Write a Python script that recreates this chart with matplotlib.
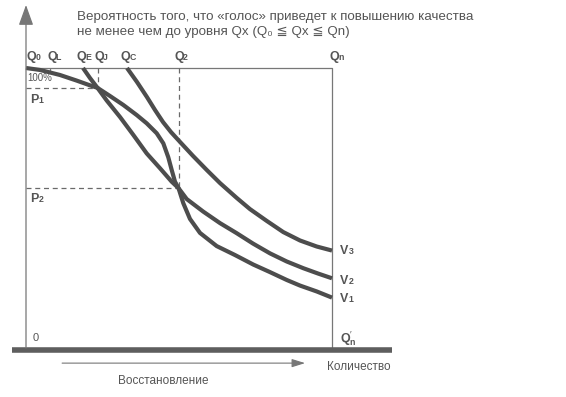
import matplotlib.pyplot as plt

plt.rcParams['font.family'] = ['Liberation Sans', 'DejaVu Sans']
plt.rcParams['mathtext.fontset'] = 'custom'
plt.rcParams['mathtext.rm'] = 'Liberation Sans'
plt.rcParams['mathtext.bf'] = 'Liberation Sans:bold'

# кривые: количество (0 = Q0, 100 = Qn) и вероятность, %
v1_x = [0, 4.58, 11.11, 16.57, 20.92, 23.37, 27.45, 31.80, 36.18, 39.44, 42.71,
        44.87, 46.50, 47.61, 48.69, 49.84, 51.41, 53.59, 56.86, 62.32, 68.30,
        74.28, 79.74, 85.20, 89.54, 95.0, 100]
v1_y = [100, 99.3, 97.5, 95.5, 93.8, 92.9, 90.0, 86.8, 83.2, 80.25, 76.7,
        73.1, 68.1, 63.6, 59.4, 57.1, 51.7, 46.1, 41.1, 36.4, 33.2,
        29.8, 27.1, 24.3, 22.3, 20.2, 18.0]

v2_x = [18.63, 20.92, 23.37, 26.37, 30.72, 35.07, 39.44, 43.79, 47.61, 49.84,
        52.52, 57.94, 63.40, 68.86, 74.18, 79.74, 85.20, 90.62, 95.42, 100]
v2_y = [100, 96.4, 92.9, 88.4, 82.5, 76.1, 69.5, 64.2, 59.4, 57.1,
        53.2, 48.7, 44.6, 41.0, 37.3, 33.8, 30.9, 28.5, 26.6, 24.9]

v3_x = [33.01, 36.27, 39.54, 42.16, 44.77, 47.39, 50.33, 54.58, 59.05, 63.40,
        68.86, 73.20, 78.66, 84.08, 89.54, 95.0, 100]
v3_y = [100, 95.0, 89.6, 85.0, 80.7, 77.1, 73.6, 68.6, 63.6, 58.9,
        53.6, 49.6, 45.4, 41.4, 38.4, 36.25, 34.8]

q_j, q_2 = 23.4, 50.0
p_1, p_2 = 92.9, 57.0
q_l = 7.8

q_names = [('Q', '0'), ('Q', 'L'), ('Q', 'E'), ('Q', 'J'), ('Q', 'C'), ('Q', '2'), ('Q', 'n')]
q_label_x = [0.3, 6.9, 16.5, 22.4, 31.0, 48.4, 99.3]
v_names = [('V', '1'), ('V', '2'), ('V', '3')]
v_label_y = [17.5, 23.9, 34.6]

title = ('Вероятность того, что «голос» приведет к повышению качества\n'
         'не менее чем до уровня Qx (Q₀ ≦ Qx ≦ Qn)')

line_c = '#4d4d4d'
thin_c = '#777777'
text_c = '#555555'


def sub_label(ax, x, y, main, sub, size=9):
    ax.text(x, y, main, fontsize=size, fontweight='bold', color=text_c,
            va='center', ha='left', clip_on=False)
    ax.annotate(sub, xy=(x, y), xytext=(size * 0.7, -0.5), textcoords='offset points',
                fontsize=size * 0.7, fontweight='bold', color=text_c,
                va='center', ha='left', annotation_clip=False)


fig = plt.figure(figsize=(5.66, 3.97), dpi=100)
ax = fig.add_axes([26 / 566, 49 / 397, 306 / 566, 280 / 397])
ax.set_xlim(0, 100)
ax.set_ylim(0, 100)
ax.axis('off')

# рамка и оси
ax.plot([0, 100, 100], [100, 100, 0], color=thin_c, lw=0.9, clip_on=False)
ax.annotate('', xy=(0, 122.5), xytext=(0, 0),
            arrowprops=dict(arrowstyle='-|>,head_length=1.25,head_width=0.45',
                            mutation_scale=10, lw=0.9, color=thin_c, shrinkA=0, shrinkB=0),
            annotation_clip=False)
ax.plot([-4.6, 119.6], [-0.7, -0.7], color='#5e5e5e', lw=4, solid_capstyle='butt',
        clip_on=False)

# пунктир
dash = dict(color='#6a6a6a', lw=0.9, ls=(0, (4, 3)))
ax.plot([q_j, q_j], [100, p_1], **dash)
ax.plot([0, q_j - 1], [p_1, p_1], **dash)
ax.plot([q_2, q_2], [100, p_2 + 1], **dash)
ax.plot([0, q_2 - 0.5], [p_2, p_2], **dash)
ax.plot([q_l, q_l], [100, 98.6], color=thin_c, lw=0.9)

for xs, ys in [(v1_x, v1_y), (v2_x, v2_y), (v3_x, v3_y)]:
    ax.plot(xs, ys, color=line_c, lw=3, solid_joinstyle='round',
            solid_capstyle='butt', clip_on=False)

for (m, s), x in zip(q_names, q_label_x):
    sub_label(ax, x, 103.9, m, s)
for (m, s), y in zip(v_names, v_label_y):
    sub_label(ax, 102.6, y, m, s)
sub_label(ax, 1.3, 88.6, 'P', '1')
sub_label(ax, 1.3, 53.2, 'P', '2')
ax.text(102.6, 3.2, r"$\mathbf{Q}^{\prime}_{\mathbf{n}}$", fontsize=9, color=text_c,
        va='center', ha='left', clip_on=False)

ax.text(0.3, 96.4, '100%', fontsize=7, color=text_c, va='center', ha='left')
ax.text(2.3, 3.6, '0', fontsize=8, color=text_c, va='center', ha='left')

ax.text(16.7, 115.6, title, fontsize=9.6, color=text_c, va='center', ha='left',
        linespacing=1.3, clip_on=False)

ax.annotate('', xy=(91.2, -5.4), xytext=(11.8, -5.4),
            arrowprops=dict(arrowstyle='-|>,head_length=0.8,head_width=0.25',
                            mutation_scale=10, lw=0.8, color=thin_c, shrinkA=0, shrinkB=0),
            annotation_clip=False)
ax.text(44.8, -11.8, 'Восстановление', fontsize=8.5, color=text_c, ha='center',
        va='center', clip_on=False)
ax.text(108.8, -6.8, 'Количество', fontsize=8.5, color=text_c, ha='center',
        va='center', clip_on=False)

fig.savefig('out.png', dpi=100, facecolor='white')
